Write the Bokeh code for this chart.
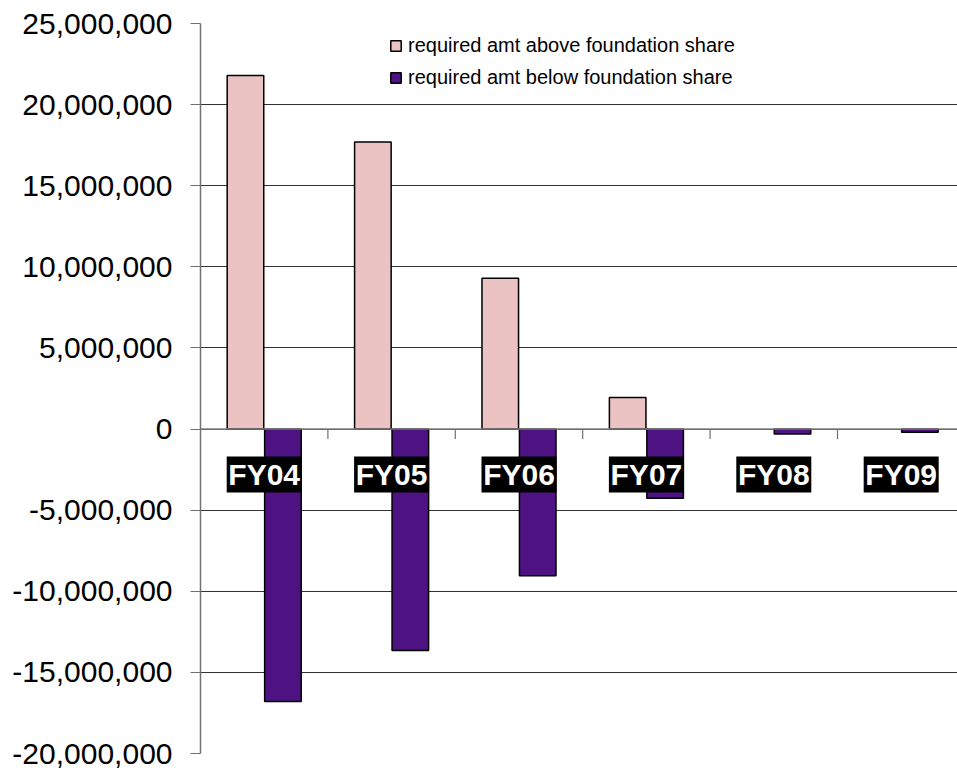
from bokeh.plotting import figure
from bokeh.models import (ColumnDataSource, Range1d, FixedTicker, NumeralTickFormatter,
                          Legend, LegendItem, Span, CDSView, BooleanFilter)
from bokeh.core.properties import value
from bokeh.embed import file_html
from bokeh.resources import INLINE

# ---- data ----
categories = ["FY04", "FY05", "FY06", "FY07", "FY08", "FY09"]
above_share = [21_800_000, 17_700_000, 9_300_000, 1_950_000, 0, 0]
below_share = [-16_800_000, -13_650_000, -9_050_000, -4_270_000, -300_000, -200_000]
y_ticks = [-20_000_000, -15_000_000, -10_000_000, -5_000_000, 0,
           5_000_000, 10_000_000, 15_000_000, 20_000_000, 25_000_000]
series_names = ["required amt above foundation share", "required amt below foundation share"]

PINK = "#EBC3C3"
PURPLE = "#4E1282"
FONT = "Liberation Sans"

n = len(categories)
centers = [i + 0.5 for i in range(n)]
bar_w = 0.287
off = 0.147

src = ColumnDataSource(dict(
    cat=categories,
    xa=[c - off for c in centers],
    xb=[c + off for c in centers],
    above=above_share,
    below=below_share,
    xc=centers,
))

p = figure(width=957, height=768, output_backend="svg", toolbar_location=None,
           x_axis_location=None,
           x_range=Range1d(0, 5.942), y_range=Range1d(-20_000_000, 25_000_000),
           min_border_left=200, min_border_right=0, min_border_top=23, min_border_bottom=15)
p.outline_line_color = None
p.xgrid.visible = False
p.ygrid.ticker = FixedTicker(ticks=y_ticks)
p.ygrid.grid_line_color = "#333333"
p.ygrid.grid_line_width = 1

ax = p.yaxis[0]
ax.ticker = FixedTicker(ticks=y_ticks)
ax.formatter = NumeralTickFormatter(format="0,0")
ax.major_label_text_font = FONT
ax.major_label_text_font_size = "30px"
ax.major_label_text_color = "black"
ax.major_tick_out = 10
ax.major_tick_in = 0
ax.minor_tick_out = 0
ax.minor_tick_in = 0
ax.major_label_standoff = 18
ax.axis_line_color = "#707070"
ax.axis_line_width = 1.5
ax.major_tick_line_color = "#707070"

# zero line (category axis)
p.add_layout(Span(location=0, dimension="width", line_color="#808080", line_width=1.5))
# category tick marks at the boundaries
bounds = list(range(1, n))
p.segment(x0=bounds, y0=[0] * len(bounds), x1=bounds, y1=[-620_000] * len(bounds),
          line_color="#707070", line_width=1.2)

view_a = CDSView(filter=BooleanFilter([v != 0 for v in above_share]))
ra = p.vbar(x="xa", top="above", bottom=0, width=bar_w, source=src, view=view_a,
            fill_color=PINK, line_color="black", line_width=1.5)
rb = p.vbar(x="xb", top=0, bottom="below", width=bar_w, source=src,
            fill_color=PURPLE, line_color="black", line_width=1.5)

# category labels: white bold on black boxes
p.rect(x="xc", y=-2_800_000, width=75, height=36, width_units="screen", height_units="screen",
       source=src, fill_color="black", line_color=None)
p.text(x="xc", y=-2_800_000, text="cat", source=src, text_color="white",
       text_font=value(FONT), text_font_style="bold", text_font_size="30px",
       text_align="center", text_baseline="middle")

legend = Legend(items=[LegendItem(label=series_names[0], renderers=[ra]),
                       LegendItem(label=series_names[1], renderers=[rb])],
                location=(189, 664), orientation="vertical")
legend.label_text_font = FONT
legend.label_text_font_size = "20px"
legend.label_text_color = "black"
legend.glyph_width = 13
legend.glyph_height = 13
legend.label_standoff = 6
legend.label_height = 20
legend.spacing = 9
legend.padding = 0
legend.margin = 0
legend.border_line_color = None
legend.background_fill_alpha = 0
p.add_layout(legend)

open("out.html", "w").write(file_html(p, INLINE))
